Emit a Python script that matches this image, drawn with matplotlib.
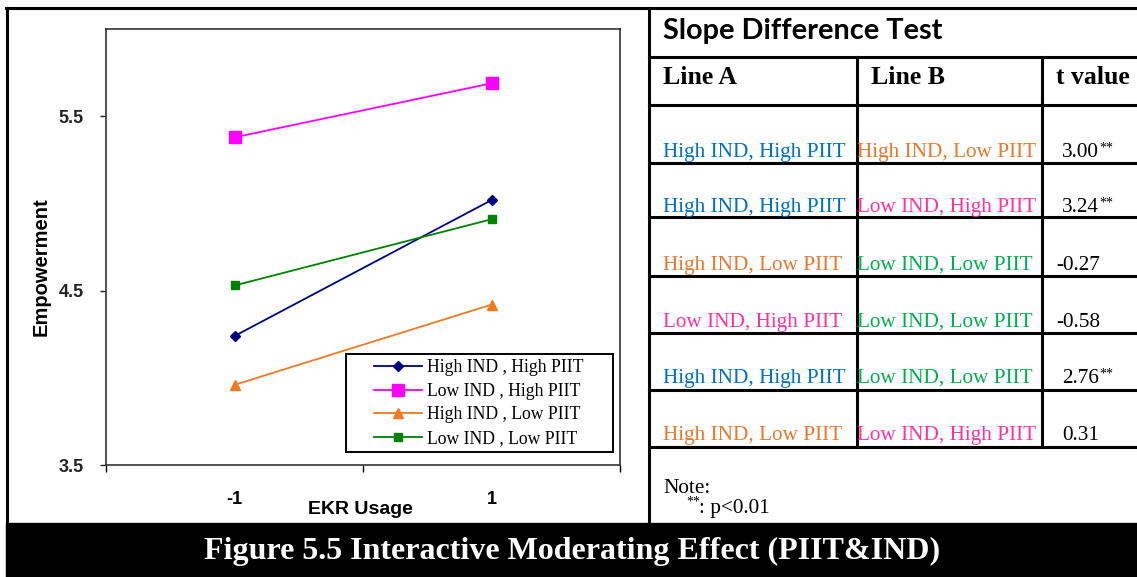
import matplotlib
matplotlib.use("Agg")
import matplotlib.pyplot as plt
from matplotlib.lines import Line2D
from matplotlib.patches import Rectangle

# ---------------- data ----------------
x_labels = ["-1", "1"]
x_pos = [-1, 1]
series_names = ["High IND , High PIIT", "Low IND , High PIIT",
                "High IND , Low PIIT", "Low IND , Low PIIT"]
high_ind_high_piit = [4.24, 5.02]
low_ind_high_piit = [5.38, 5.69]
high_ind_low_piit = [3.96, 4.42]
low_ind_low_piit = [4.53, 4.91]
y_ticks = [3.5, 4.5, 5.5]

table_title = "Slope Difference Test"
table_headers = ["Line A", "Line B", "t value"]
line_a = ["High IND, High PIIT", "High IND, High PIIT", "High IND, Low PIIT",
          "Low IND, High PIIT", "High IND, High PIIT", "High IND, Low PIIT"]
line_b = ["High IND, Low PIIT", "Low IND, High PIIT", "Low IND, Low PIIT",
          "Low IND, Low PIIT", "Low IND, Low PIIT", "Low IND, High PIIT"]
t_values = ["3.00", "3.24", "-0.27", "-0.58", "2.76", "0.31"]
t_sig = ["**", "**", "", "", "**", ""]
caption = "Figure 5.5 Interactive Moderating Effect (PIIT&IND)"

# ---------------- styles ----------------
W, H = 1137, 577
fig = plt.figure(figsize=(W / 100, H / 100), dpi=100)
fig.patch.set_facecolor("white")

def fx(x):
    return x / W

def fy(y):
    return 1 - y / H

series_styles = [
    dict(color="#000080", marker="D", ms=5.5),
    dict(color="#FF00FF", marker="s", ms=8.5),
    dict(color="#F07A24", marker="^", ms=7.5),
    dict(color="#008000", marker="s", ms=6),
]
series_values = [high_ind_high_piit, low_ind_high_piit, high_ind_low_piit, low_ind_low_piit]

label_colors = {
    "High IND, High PIIT": "#0070C0",
    "High IND, Low PIIT": "#E8772A",
    "Low IND, High PIIT": "#FF3399",
    "Low IND, Low PIIT": "#00B050",
}

# ---------------- chart ----------------
AX_L, AX_R, AX_T, AX_B = 106, 620, 29.3, 465
ax = fig.add_axes([fx(AX_L), fy(AX_B), fx(AX_R) - fx(AX_L), fy(AX_T) - fy(AX_B)])
for name, vals, st in zip(series_names, series_values, series_styles):
    ax.plot(x_pos, vals, color=st["color"], marker=st["marker"], ms=st["ms"],
            lw=1.3, label=name, mec=st["color"], mfc=st["color"])

ax.set_xlim(-2, 2)
ax.set_ylim(3.5, 6.0)
ax.tick_params(axis="y", direction="out", length=4, width=1, pad=12, colors="#222222",
               labelsize=13)
ax.tick_params(axis="x", which="major", direction="out", length=5, width=1)
ax.tick_params(axis="x", which="minor", length=0, pad=18.5, labelsize=13)
ax.set_yticks(y_ticks)
ax.set_yticklabels([f"{v:.1f}" for v in y_ticks], fontsize=13, fontweight="bold",
                   family="Liberation Sans")
ax.set_xticks([-2, 0, 2])
ax.set_xticklabels(["", "", ""])
ax.set_xticks(x_pos, minor=True)
ax.set_xticklabels(x_labels, minor=True, fontsize=13, fontweight="bold",
                   family="Liberation Sans")
for s in ax.spines.values():
    s.set_color("#333333")
    s.set_linewidth(1.2)

fig.text(fx(360), fy(509), "EKR Usage", ha="center", va="center", fontsize=14,
         fontweight="bold", family="Liberation Sans")
fig.text(fx(41.5), fy(267), "Empowerment", ha="center", va="center", fontsize=14.5,
         fontweight="bold", family="Liberation Sans", rotation=90)

# legend: frame drawn as a rectangle in pixel positions, entries via legend()
def ax_frac(px, py):
    return ((px - AX_L) / (AX_R - AX_L), (AX_B - py) / (AX_B - AX_T))

lx0, ly0 = ax_frac(346, 452)
lx1, ly1 = ax_frac(613, 354)
ax.add_patch(Rectangle((lx0, ly0), lx1 - lx0, ly1 - ly0, transform=ax.transAxes,
                       facecolor="white", edgecolor="black", lw=1.4, zorder=4))
ax_leg_x, ax_leg_y = ax_frac(374, 359)
leg = ax.legend(loc="upper left", bbox_to_anchor=(ax_leg_x, ax_leg_y),
                prop=dict(family="Liberation Serif", size=12.7), frameon=False,
                handlelength=2.7, handletextpad=0.3, labelspacing=0.38,
                borderpad=0, borderaxespad=0)
leg.set_zorder(5)

# ---------------- frame lines ----------------
def hline(y, x0, x1, lw=2.2):
    fig.add_artist(Line2D([fx(x0), fx(x1)], [fy(y), fy(y)], color="black", lw=lw,
                          transform=fig.transFigure))

def vline(x, y0, y1, lw=2.2):
    fig.add_artist(Line2D([fx(x), fx(x)], [fy(y0), fy(y1)], color="black", lw=lw,
                          transform=fig.transFigure))

hline(7.5, 6, W)
vline(7, 7.5, 523)
vline(648.5, 7.5, 523)
row_lines = [57, 105, 162.7, 217.3, 276, 332.7, 390, 446.7]
for y in row_lines:
    hline(y, 648.5, W)
vline(856.5, 57, 446.7)
vline(1041.5, 57, 446.7)

# caption bar
fig.patches.append(Rectangle((fx(6), 0), 1 - fx(6), fy(522.7), color="black",
                             transform=fig.transFigure, zorder=0))
fig.text(fx(572), fy(551), caption, ha="center", va="center", color="white",
         fontsize=23, fontweight="bold", family="Liberation Serif")

# ---------------- table ----------------
fig.text(fx(663), fy(39), table_title, ha="left", va="baseline", fontsize=20.8,
         fontweight="bold", family="Lato")
header_x = [663, 871, 1056]
for hx, h in zip(header_x, table_headers):
    fig.text(fx(hx), fy(84), h, ha="left", va="baseline", fontsize=18.5,
             fontweight="bold", family="Liberation Serif")

baselines = [157, 212, 270, 327, 383, 440]
value_texts = []
for yb, a, b, t, sg in zip(baselines, line_a, line_b, t_values, t_sig):
    fig.text(fx(663), fy(yb), a, ha="left", va="baseline", fontsize=15.3,
             family="Liberation Serif", color=label_colors[a])
    fig.text(fx(857), fy(yb), b, ha="left", va="baseline", fontsize=15.3,
             family="Liberation Serif", color=label_colors[b])
    tx = 1056 if t.startswith("-") else 1062
    tt = fig.text(fx(tx), fy(yb), t, ha="left", va="baseline", fontsize=15.3,
                  family="Liberation Serif", color="black")
    value_texts.append((tt, yb, sg))

fig.text(fx(663), fy(493), "Note:", ha="left", va="baseline", fontsize=15.3,
         family="Liberation Serif")
fig.text(fx(686), fy(506), "**", ha="left", va="baseline", fontsize=10,
         family="Liberation Serif")
fig.text(fx(699), fy(513), ": p<0.01", ha="left", va="baseline", fontsize=15.3,
         family="Liberation Serif")

renderer = fig.canvas.get_renderer()
for tt, yb, sg in value_texts:
    if sg:
        bb = tt.get_window_extent(renderer=renderer)
        fig.text(fx(bb.x1 + 0.5), fy(yb - 5.5), sg, ha="left", va="baseline",
                 fontsize=10, family="Liberation Serif")

fig.savefig("out.png", dpi=100, facecolor="white")
